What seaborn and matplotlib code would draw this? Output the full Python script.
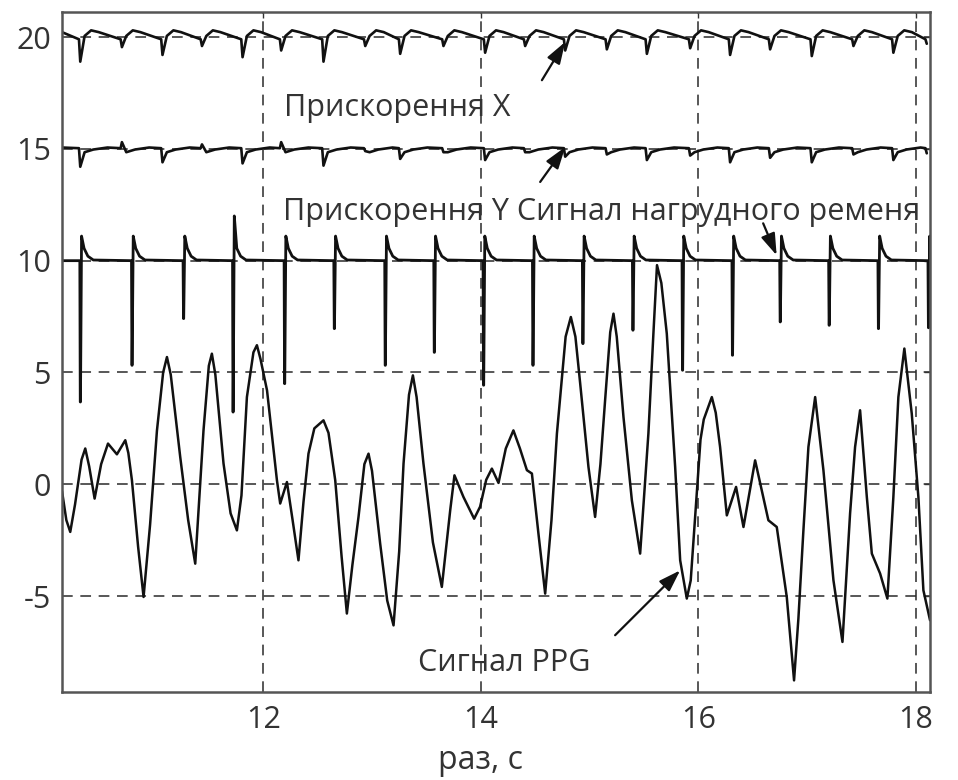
import matplotlib
matplotlib.use("Agg")
import matplotlib.pyplot as plt
import seaborn as sns
import pandas as pd
import numpy as np

# ---------------- data ----------------
# PPG signal: time (s), amplitude
ppg_t = [10.15, 10.19, 10.226, 10.27, 10.33, 10.364, 10.40, 10.45, 10.51, 10.573,
         10.655, 10.732, 10.76, 10.793, 10.85, 10.90, 10.96, 11.023, 11.08, 11.115,
         11.15, 11.237, 11.31, 11.375, 11.451, 11.50, 11.528, 11.56, 11.635, 11.70,
         11.758, 11.80, 11.85, 11.91, 11.942, 11.975, 12.035, 12.126, 12.156, 12.218,
         12.27, 12.324, 12.37, 12.416, 12.47, 12.554, 12.60, 12.662, 12.72, 12.769,
         12.82, 12.876, 12.93, 12.968, 13.00, 13.075, 13.14, 13.198, 13.25, 13.29,
         13.34, 13.376, 13.41, 13.473, 13.56, 13.642, 13.719, 13.758, 13.841, 13.939,
         13.994, 14.05, 14.102, 14.163, 14.23, 14.30, 14.36, 14.424, 14.47, 14.53,
         14.592, 14.65, 14.70, 14.78, 14.828, 14.87, 14.914, 14.99, 15.051, 15.10,
         15.143, 15.19, 15.22, 15.25, 15.312, 15.389, 15.465, 15.541, 15.587, 15.62,
         15.66, 15.71, 15.787, 15.833, 15.894, 15.93, 15.97, 16.02, 16.05, 16.124,
         16.16, 16.2, 16.262, 16.347, 16.415, 16.522, 16.644, 16.721, 16.813, 16.88,
         16.92, 16.966, 17.012, 17.074, 17.15, 17.242, 17.325, 17.395, 17.441, 17.487,
         17.549, 17.595, 17.671, 17.738, 17.793, 17.839, 17.894, 17.962, 18.023, 18.069,
         18.13]
ppg_v = [-0.3, -1.6, -2.13, -0.9, 1.1, 1.6, 0.8, -0.64, 0.9, 1.82,
         1.34, 1.97, 1.4, 0.18, -2.8, -5.04, -1.8, 2.4, 5.0, 5.69,
         4.9, 1.22, -1.6, -3.55, 2.41, 5.3, 5.84, 4.9, 0.93, -1.3,
         -2.06, -0.5, 3.9, 5.9, 6.22, 5.6, 4.2, 0.18, -0.86, 0.10,
         -1.6, -3.40, -0.8, 1.37, 2.5, 2.86, 2.3, 0.18, -3.2, -5.78,
         -3.6, -1.46, 0.9, 1.37, 0.6, -2.65, -5.2, -6.31, -3.0, 0.93,
         4.0, 4.87, 3.9, 0.93, -2.6, -4.59, -1.16, 0.40, -0.57, -1.54,
         -1.0, 0.2, 0.70, 0.06, 1.6, 2.41, 1.6, 0.63, 0.48, -2.2,
         -4.89, -1.6, 2.27, 6.6, 7.48, 6.6, 4.5, 0.77, -1.46, 0.9,
         3.76, 6.8, 7.63, 6.6, 3.0, -0.72, -3.10, 2.27, 6.74, 9.8,
         9.0, 6.74, 0.77, -3.4, -5.11, -4.3, -1.5, 2.0, 2.9, 3.9,
         3.2, 1.67, -1.39, -0.12, -1.91, 1.07, -1.61, -1.91, -5.04, -8.77,
         -6.0, -2.06, 1.67, 3.9, 0.63, -4.29, -7.05, -1.31, 1.67, 3.31,
         -0.57, -3.10, -3.99, -5.11, -0.57, 3.9, 6.07, 3.16, -0.57, -4.74,
         -6.08]

# Chest strap signal: beat times, spike bottoms, spike tops
strap_t = [10.318, 10.793, 11.267, 11.722, 12.196, 12.653, 13.121, 13.572, 14.025,
           14.479, 14.938, 15.398, 15.854, 16.313, 16.752, 17.202, 17.655, 18.115]
strap_low = [3.68, 5.32, 7.41, 3.23, 4.50, 6.96, 5.32, 5.90, 4.43,
             5.32, 6.29, 6.89, 5.10, 5.77, 7.26, 7.11, 6.96, 7.0]
strap_high = [11.1, 11.1, 11.1, 12.0, 11.1, 11.1, 11.1, 11.1, 11.1,
              11.1, 11.1, 11.1, 11.1, 11.1, 11.1, 11.1, 11.1, 11.1]
strap_base = 10.0
strap_decay_dt = [0.012, 0.035, 0.07, 0.12]
strap_decay_v = [None, 10.55, 10.2, 10.03]

# Accelerometer traces: dip times and dip values
acc_t = [10.318, 10.701, 11.074, 11.437, 11.81, 12.165, 12.554, 12.938, 13.259,
         13.657, 14.040, 14.408, 14.776, 15.159, 15.527, 15.925, 16.292, 16.66,
         17.043, 17.426, 17.793, 18.1]
accx_dip = [18.9, 19.55, 19.2, 19.6, 19.1, 19.4, 18.9, 19.6, 19.25, 19.6, 19.3,
            19.6, 19.4, 19.45, 19.25, 19.5, 19.2, 19.45, 19.15, 19.6, 19.3, 19.7]
accy_dip = [14.2, 15.3, 14.4, 15.2, 14.35, 15.3, 14.25, 14.9, 14.55, 14.85, 14.5,
            14.85, 14.65, 14.75, 14.5, 14.7, 14.4, 14.6, 14.4, 14.75, 14.5, 14.8]
accx_dt = [0.04, 0.10, 0.17]
accx_v = [20.05, 20.3, 20.22]
accx_pre = 19.9
accy_dt = [0.04, 0.12, 0.25]
accy_v = [14.85, 14.97, 15.06]
accy_pre = 15.03

x_start, x_end = 10.15, 18.13
x_ticks = [12, 14, 16, 18]
y_ticks = [-5, 0, 5, 10, 15, 20]
x_label = "раз, с"
label_x = "Прискорення X"
label_y = "Прискорення Y Сигнал нагрудного ременя"
label_ppg = "Сигнал PPG"

# ---------------- build series ----------------
def build_strap():
    tt, vv = [x_start], [strap_base]
    for ts, lo, hi in zip(strap_t, strap_low, strap_high):
        tt += [ts - 0.004, ts, ts + 0.002]
        vv += [strap_base, lo, lo]
        for dt, v in zip(strap_decay_dt, strap_decay_v):
            tt.append(ts + dt)
            vv.append(hi if v is None else v)
    tt.append(x_end)
    vv.append(strap_base)
    return tt, vv

def build_acc(dips, dts, vals, pre):
    tt, vv = [x_start], [vals[-1]]
    for i, (td, d) in enumerate(zip(acc_t, dips)):
        tt += [td - 0.012, td]
        vv += [pre, d]
        nxt = acc_t[i + 1] if i + 1 < len(acc_t) else x_end + 0.3
        for dt, v in zip(dts, vals):
            if td + dt < nxt - 0.03:
                tt.append(td + dt)
                vv.append(v)
    return tt, vv

st, sv = build_strap()
xt, xv = build_acc(accx_dip, accx_dt, accx_v, accx_pre)
yt, yv = build_acc(accy_dip, accy_dt, accy_v, accy_pre)

frames = []
for name, t, v in [("ppg", ppg_t, ppg_v), ("strap", st, sv), ("accx", xt, xv), ("accy", yt, yv)]:
    df = pd.DataFrame({"t": t, "v": v})
    df = df[(df.t >= x_start) & (df.t <= x_end)]
    df["series"] = name
    frames.append(df)
data = pd.concat(frames, ignore_index=True)

# ---------------- plot ----------------
sns.set_theme(style="white")
plt.rcParams['font.family'] = ['Open Sans', 'DejaVu Sans']
plt.rcParams['axes.unicode_minus'] = False

fig = plt.figure(figsize=(9.58, 7.8), dpi=100)
ax = fig.add_axes([0.0647, 0.1128, 0.9061, 0.8718])

for name, lw in [("ppg", 1.8), ("strap", 2.0), ("accx", 1.9), ("accy", 1.9)]:
    sub = data[data.series == name]
    sns.lineplot(data=sub, x="t", y="v", ax=ax, color="#111111", lw=lw,
                 estimator=None, sort=False, legend=False)

ax.set_xlim(x_start, x_end)
ax.set_ylim(-9.29, 21.12)
ax.set_xticks(x_ticks)
ax.set_yticks(y_ticks)
ax.grid(True, linestyle=(0, (7, 5)), color="#2a2a2a", lw=1.1)
ax.set_axisbelow(True)
for s in ax.spines.values():
    s.set_color("#555555")
    s.set_linewidth(1.8)
ax.tick_params(axis="both", labelsize=22, colors="#333333", direction="in",
               length=4, width=1, top=True, right=True)
ax.tick_params(axis="x", pad=9)
ax.tick_params(axis="y", pad=8)
ax.set_xlabel(x_label, fontsize=23, color="#333333", va="center")
ax.xaxis.set_label_coords(0.482, -0.1)
ax.set_ylabel("")

txt_kw = dict(fontsize=22, color="#333333", va="center", ha="left")
ax.text(12.19, 16.82, label_x, **txt_kw)
ax.text(12.18, 12.16, label_y, clip_on=False, **txt_kw)
ax.text(13.425, -8.0, label_ppg, **txt_kw)

arrow_kw = dict(arrowstyle="-|>,head_length=0.6,head_width=0.2", color="#111111",
                lw=1.6, mutation_scale=22, shrinkA=0, shrinkB=0)
ax.annotate("", xy=(14.776, 19.78), xytext=(14.562, 18.07), arrowprops=arrow_kw)
ax.annotate("", xy=(14.776, 15.08), xytext=(14.546, 13.52), arrowprops=arrow_kw)
ax.annotate("", xy=(16.72, 10.24), xytext=(16.596, 11.67), arrowprops=arrow_kw)
ax.annotate("", xy=(15.833, -3.85), xytext=(15.235, -6.75), arrowprops=arrow_kw)

fig.savefig("out.png", dpi=100)
